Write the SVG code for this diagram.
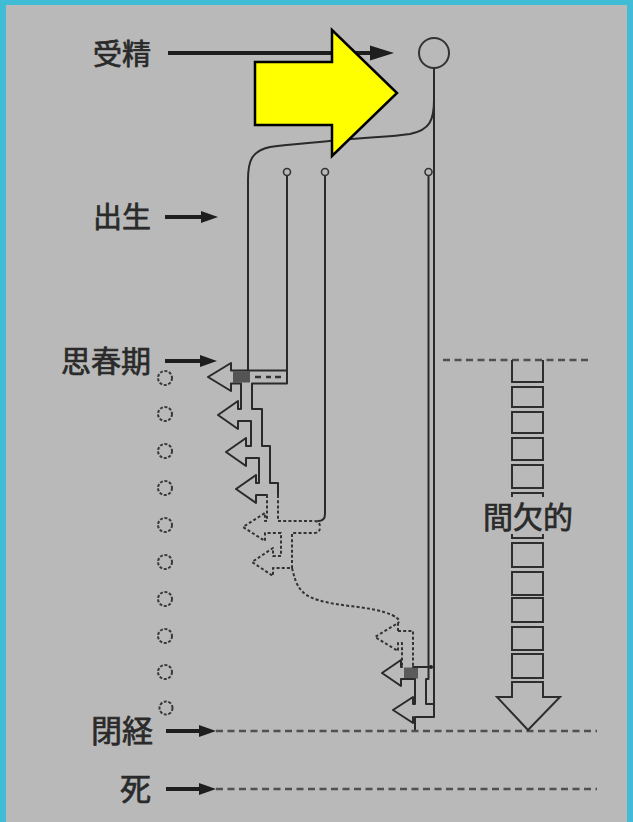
<svg xmlns="http://www.w3.org/2000/svg" width="633" height="822" viewBox="0 0 633 822">
<defs>
<style>
.ln{fill:none;stroke:#2a2a2a;stroke-width:2;stroke-linecap:round;stroke-linejoin:round}
.dash{fill:none;stroke:#333;stroke-width:2;stroke-dasharray:3 2.2;stroke-linejoin:round}
.lbl{font-family:"Noto Sans CJK JP","Noto Sans CJK SC",sans-serif;fill:#2a2a2a;stroke:#2a2a2a;stroke-width:0.7}
.arw{stroke:#1e1e1e;stroke-width:4;fill:none}
.hd{fill:#1e1e1e}
.gl{fill:none;stroke:#505050;stroke-width:2.4;stroke-dasharray:7 4.5}
.dot{fill:none;stroke:#383838;stroke-width:2;stroke-dasharray:3 1.6}
.box{fill:none;stroke:#2e2e2e;stroke-width:2}
.sc{fill:#b9b9b9;stroke:#333;stroke-width:1.6}
</style>
</defs>
<rect x="0" y="0" width="633" height="822" fill="#40bcd5"/>
<rect x="6" y="5" width="621" height="817" fill="#b9b9b9"/>

<g id="connectors">
  <path class="ln" d="M434,68 L434,717 L415,717 L415,730"/>
  <path class="ln" d="M434,100 C434,120 430,130 410,134 C390,137 370,137 340,140 C310,143 290,144 270,147 C252,151 248,160 248,180 L248,370.5"/>
  <path class="ln" d="M287,175.5 L287,370.5"/>
  <path class="ln" d="M325,175.5 L325,514 Q325,521 318,521"/>
  <path class="ln" d="M428.5,175.5 L428.5,667"/>
  <path class="ln" d="M287,370.5 L231,370.5 L231,363 L208,377 L231,391 L231,383.5 L241,383.5 L241,409 L238,409 L238,401 L218,415 L238,429 L238,421 L251,421 L251,446 L246,446 L246,438 L226,452 L246,466 L246,458 L259,458 L259,483 L256,483 L256,475 L236,489 L256,503 L256,495 L267,495"/>
  <path class="ln" d="M287,370.5 L287,383.5 L252,383.5 L252,409 L262,409 L262,446 L270,446 L270,483 L278,483 L278,495"/>
  <rect x="233" y="371.5" width="17" height="11" fill="#333" opacity="0.75"/>
  <path d="M255,377 h6 M266,377 h5 M275,377 h6" stroke="#333" stroke-width="2.5"/>
  <path class="dash" d="M267,495 L267,521 L265,521 L265,513 L243,527 L265,541 L265,533 L281,533 L281,556 L273,556 L273,548 L252,562 L273,576 L273,568 L292,568"/>
  <path class="dash" d="M278,495 L278,521 L314,521 Q320,521 320,527 Q320,533 314,533 L292,533 L292,568"/>
  <path class="dash" d="M292,568 C296,585 300,595 318,600 C340,607 372,606 392,615 C400,619 400,621 398,623"/>
  <path class="dash" d="M398,631 L398,623 L375,637 L398,651 L398,643 L402,643 L402,667"/>
  <path class="ln" d="M402,667 L401,667 L401,660 L382,673 L401,686 L401,679 L415,679 L415,704 L413,704 L413,697 L393,710 L413,723 L413,717"/>
  <path class="dash" d="M398,631 L413,631 L413,667"/>
  <path class="ln" d="M413,667 L428.5,667 L428.5,679 L426,679 L426,704 L434,704"/>
  <rect x="404" y="667.5" width="14" height="11" fill="#333" opacity="0.7"/>
  <circle cx="431" cy="667" r="2" fill="#222"/>
  <line class="arw" x1="168" y1="53" x2="374" y2="53"/>
  <polygon class="hd" points="370,45.5 394,53 370,60.5"/>
  <line class="arw" x1="165" y1="217" x2="204" y2="217"/>
  <polygon class="hd" points="201,211 218,217 201,223"/>
  <line class="arw" x1="165" y1="361" x2="203" y2="361"/>
  <polygon class="hd" points="200,355 217,361 200,367"/>
  <line class="arw" x1="166" y1="731" x2="202" y2="731"/>
  <polygon class="hd" points="199,725 216,731 199,737"/>
  <line class="arw" x1="166" y1="789" x2="202" y2="789"/>
  <polygon class="hd" points="199,783 216,789 199,795"/>
  <line class="gl" x1="216" y1="731" x2="597" y2="731"/>
  <line class="gl" x1="216" y1="789" x2="597" y2="789"/>
  <line class="gl" x1="443" y1="360" x2="592" y2="360"/>
</g>

<g id="fertilization">
  <circle cx="434" cy="53" r="15" fill="none" stroke="#333" stroke-width="2"/>
  <text class="lbl" x="151" y="65" font-size="29" text-anchor="end">受精</text>
</g>
<g id="small-circles">
  <circle class="sc" cx="287" cy="172" r="3.5"/>
  <circle class="sc" cx="325" cy="172" r="3.5"/>
  <circle class="sc" cx="428.5" cy="172" r="3.5"/>
</g>
<g id="birth"><text class="lbl" x="151" y="228" font-size="29" text-anchor="end">出生</text></g>
<g id="puberty"><text class="lbl" x="151" y="372" font-size="30" text-anchor="end">思春期</text></g>
<g id="menopause"><text class="lbl" x="153" y="742" font-size="31" text-anchor="end">閉経</text></g>
<g id="death"><text class="lbl" x="151" y="800" font-size="31" text-anchor="end">死</text></g>

<g id="follicles">
  <circle class="dot" cx="165" cy="378" r="7"/>
  <circle class="dot" cx="165" cy="414" r="7"/>
  <circle class="dot" cx="165" cy="451" r="7"/>
  <circle class="dot" cx="165" cy="488" r="7"/>
  <circle class="dot" cx="165" cy="525" r="7"/>
  <circle class="dot" cx="165" cy="562" r="7"/>
  <circle class="dot" cx="165" cy="599" r="7"/>
  <circle class="dot" cx="165" cy="636" r="7"/>
  <circle class="dot" cx="165" cy="672" r="7"/>
  <circle class="dot" cx="166" cy="708" r="6.5"/>
</g>

<g id="intermittent">
  <path class="box" d="M512,360 L512,382 L543,382 L543,360"/>
  <rect class="box" x="512" y="387" width="31" height="20"/>
  <rect class="box" x="512" y="412" width="31" height="21"/>
  <rect class="box" x="512" y="438" width="31" height="22"/>
  <rect class="box" x="512" y="465" width="31" height="23"/>
  <path class="box" d="M512,497 L512,493 L543,493 L543,497"/>
  <path class="box" d="M512,534 L512,538 L543,538 L543,534"/>
  <rect class="box" x="512" y="543" width="31" height="24"/>
  <rect class="box" x="512" y="572" width="31" height="23"/>
  <rect class="box" x="512" y="598" width="31" height="24"/>
  <rect class="box" x="512" y="627" width="31" height="23"/>
  <rect class="box" x="512" y="654" width="31" height="24"/>
  <path class="box" d="M512,682 L543,682 L543,697 L560,697 L528,730 L497,697 L512,697 Z"/>
  <text class="lbl" x="528" y="528" font-size="30" text-anchor="middle">間欠的</text>
</g>

<g id="highlight-arrow">
  <polygon points="255,62 332,62 332,30 397,93 332,156 332,125 255,125" fill="#ffff00" stroke="#000" stroke-width="2.5" stroke-linejoin="miter"/>
</g>
</svg>
